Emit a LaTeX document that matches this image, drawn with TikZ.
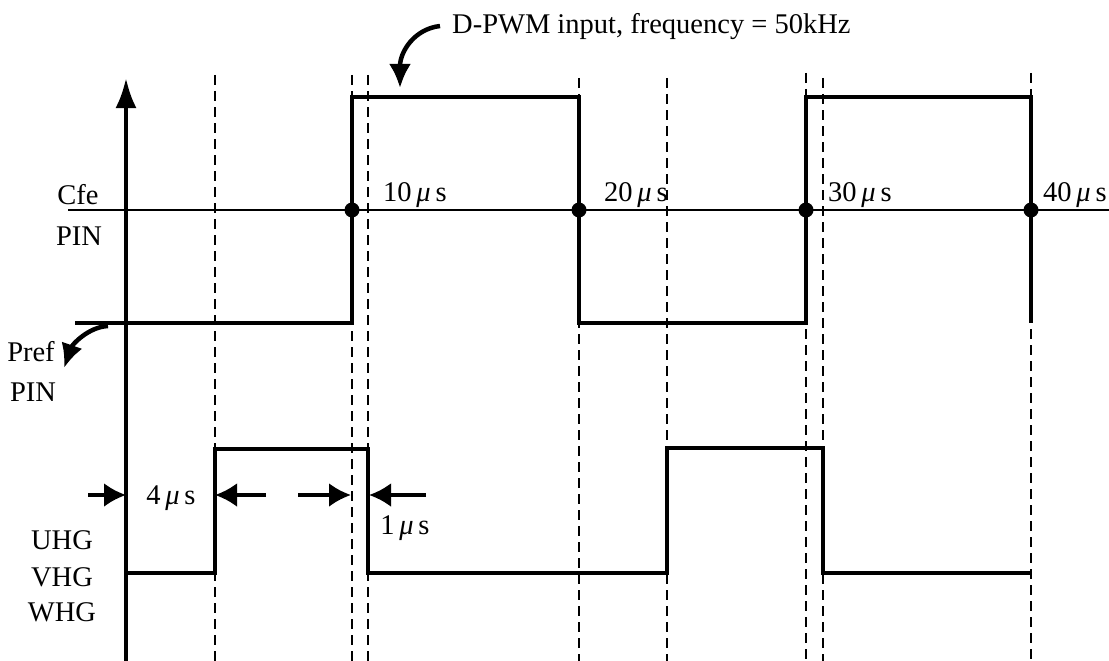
\documentclass[tikz,border=0pt]{standalone}
\usepackage{fontspec}
\setmainfont{Liberation Serif}
\usetikzlibrary{arrows.meta}
\newcommand{\mus}{\,\textit{μ}\,s}
\begin{document}
\begin{tikzpicture}[x=1pt,y=-1pt,
  wave/.style={line width=4pt, line join=miter},
  thinline/.style={line width=2pt},
  guide/.style={line width=2pt, dash pattern=on 10pt off 6pt},
  lbl/.style={font=\fontsize{28.5}{31}\selectfont, inner sep=0pt},
  dotmark/.style={circle, fill, inner sep=0pt, minimum size=15pt},
  dimarrow/.style={line width=3.5pt, -{Latex[length=22pt,width=24pt]}},
  curvearrow/.style={line width=4.5pt, -{Latex[length=24pt,width=22pt]}}
]
\useasboundingbox (0,0) rectangle (1109,661);
% dashed guides
\foreach \n/\x/\t in {a/215/75,b/352/75,c/368/75,d/579/78,e/667/78,f/806/73,g/823/78,h/1031/73}{
  \coordinate (g\n t) at (\x,\t);
  \coordinate (g\n b) at (\x,661);
  \draw[guide] (g\n t) -- (g\n b);
}
% axis
\coordinate (axb) at (126,661);
\coordinate (axt) at (126,78);
\draw[line width=4pt, -{Latex[length=30pt,width=21pt]}] (axb) -- (axt);
% Cfe line
\coordinate (cl) at (68,210);
\coordinate (cr) at (1109,210);
\draw[thinline] (cl) -- (cr);
% Cfe waveform
\draw[wave] (75,323) -- (352,323) -- (352,97) -- (579,97) -- (579,323) -- (806,323) -- (806,97) -- (1031,97) -- (1031,323);
\foreach \n/\x in {p1/352,p2/579,p3/806,p4/1031}{
  \node[dotmark] (\n) at (\x,210) {};
}
% lower waveform
\draw[wave] (126,573) -- (215,573) -- (215,449) -- (368,449) -- (368,573) -- (667,573) -- (667,448) -- (823,448) -- (823,573) -- (1031,573);
% dimension arrows
\coordinate (a1s) at (88,495);   \coordinate (a1e) at (126,495);
\coordinate (a2s) at (266,495);  \coordinate (a2e) at (215,495);
\coordinate (a3s) at (298,495);  \coordinate (a3e) at (351,495);
\coordinate (a4s) at (426,495);  \coordinate (a4e) at (369,495);
\draw[dimarrow] (a1s) -- (a1e);
\draw[dimarrow] (a2s) -- (a2e);
\draw[dimarrow] (a3s) -- (a3e);
\draw[dimarrow] (a4s) -- (a4e);
% labels
\node[lbl, anchor=west] (top) at (452,27) {D-PWM input, frequency = 50kHz};
\node[lbl] (cfe) at (78,195) {Cfe};
\node[lbl] (pin1) at (79,236) {PIN};
\node[lbl] (pref) at (31,352) {Pref};
\node[lbl] (pin2) at (33,392) {PIN};
\node[lbl, anchor=west] (t10) at (383,195) {10\mus};
\node[lbl, anchor=west] (t20) at (604,195) {20\mus};
\node[lbl, anchor=west] (t30) at (828,195) {30\mus};
\node[lbl, anchor=west] (t40) at (1043,195) {40\mus};
\node[lbl] (t4) at (171,498) {4\mus};
\node[lbl] (t1) at (405,528) {1\mus};
\node[lbl] (uhg) at (62,540) {UHG};
\node[lbl] (vhg) at (62,577) {VHG};
\node[lbl] (whg) at (62,612) {WHG};
% curved arrows
\coordinate (ts) at (440,26);
\coordinate (te) at (400,88);
\draw[curvearrow] (ts) .. controls (414,29) and (400,52) .. (te);
\coordinate (ps) at (108,326);
\coordinate (pe) at (64,368);
\draw[curvearrow] (ps) .. controls (88,327) and (72,345) .. (pe);
\end{tikzpicture}
\end{document}
